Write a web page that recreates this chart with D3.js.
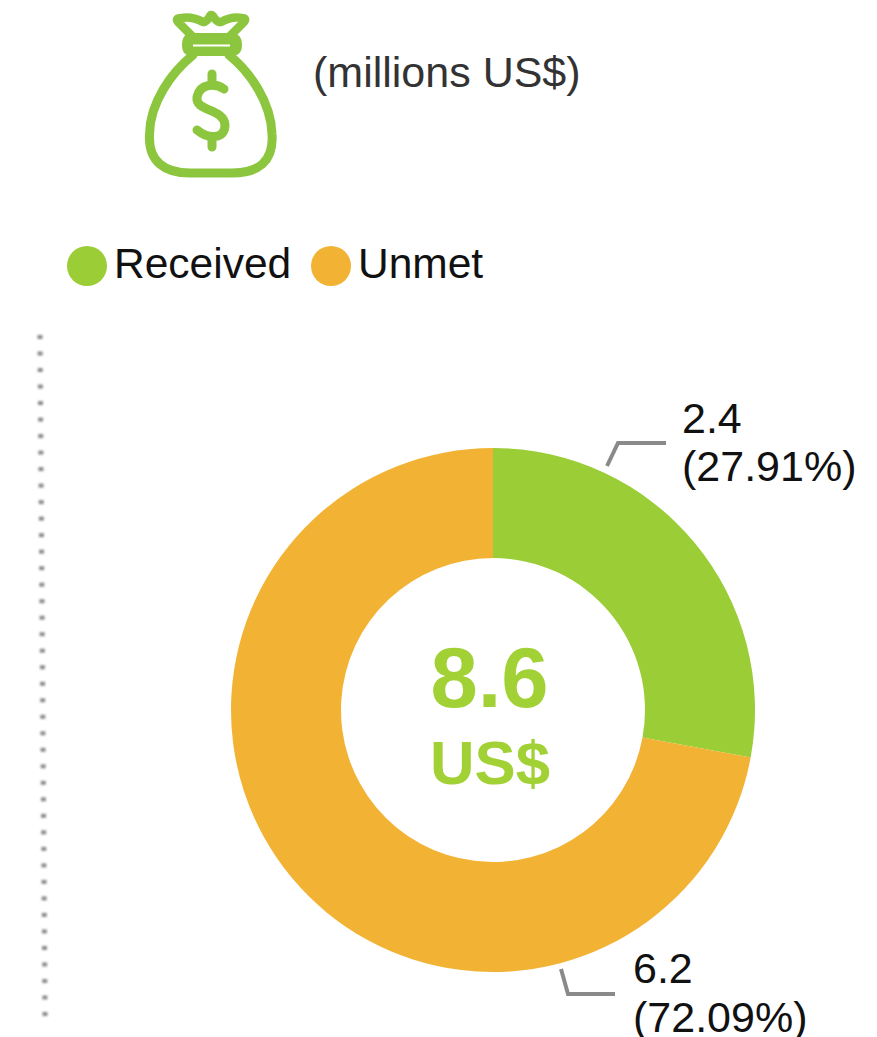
<!DOCTYPE html>
<html><head><meta charset="utf-8">
<script src="https://cdn.jsdelivr.net/npm/d3@7"></script>
<style>html,body{margin:0;padding:0;background:#fff}svg{display:block}text{font-family:"Liberation Sans",Arial,sans-serif}</style>
</head><body><svg id="c" width="877" height="1037"></svg>
<script>
const categories = ["Received", "Unmet"];
const values = [2.4, 6.2];
const percents = ["27.91%", "72.09%"];
const colors = ["#9BCD37", "#F2B335"];
const total = "8.6";
const unitLabel = "US$";
const subtitle = "(millions US$)";

const svg = d3.select("#c");
const cx = 493, cy = 710, R = 262, r = 152;

// icon
const icon = svg.append("g").attr("fill","none").attr("stroke","#8CC63F").attr("stroke-linecap","round").attr("stroke-linejoin","round").style("filter","blur(.4px)");
icon.append("path").attr("stroke-width",9).attr("d","M193,55 C172,72 150,102 149.500,134 C148,162 165,173 190,173 L232,173 C258,173 274,162 272,134 C271,102 250,72 229,55");
icon.append("path").attr("stroke-width",8).attr("fill","#8CC63F").attr("d","M192,37 L231,37 Q238,37 238,45 Q238,52 231,52 L192,52 Q186,52 186,45 Q186,37 192,37 Z");
icon.append("path").attr("stroke","#fff").attr("stroke-width",2).attr("stroke-linecap","butt").attr("d","M193,45.500 L230,45.500");
icon.append("path").attr("stroke-width",8.500).attr("d","M192,36 L178,22 Q175,18 181,18 Q192,16 203,22 Q206,23 210,16 Q211,14 213,16 Q217,23 221,22 Q232,16 242,18 Q247,18 244,22 L230,36");
icon.append("path").attr("stroke-width",9).attr("d","M224,89 C216,83 200,83 197,97 C195,112 224,108 225,125 C225,140 208,139 197,130 M212,74 L212,84 M212,139 L212,147");

// subtitle
svg.append("text").attr("x",313).attr("y",87).attr("font-size",43).attr("fill","#333").text(subtitle);

// legend
const legendX = [87, 331], legendTextX = [114, 358];
categories.forEach((c,i)=>{
  svg.append("circle").attr("cx",legendX[i]).attr("cy",266).attr("r",20).attr("fill",colors[i]);
  svg.append("text").attr("x",legendTextX[i]).attr("y",278).attr("font-size",42.500).attr("fill","#111").text(c);
});

// dotted line
const dotStart = [40, 337], dotEnd = [45, 1014], n = 42;
const sx = d3.scaleLinear().domain([0,n-1]).range([dotStart[0],dotEnd[0]]);
const sy = d3.scaleLinear().domain([0,n-1]).range([dotStart[1],dotEnd[1]]);
svg.append("g").selectAll("rect").data(d3.range(n)).join("rect")
  .attr("x",d=>sx(d)-2.5).attr("y",d=>sy(d)-2).attr("width",5).attr("height",4)
  .attr("fill","#777").attr("opacity",.85).style("filter","blur(1px)");

// donut
const pie = d3.pie().sort(null)(values);
const arc = d3.arc().innerRadius(r).outerRadius(R);
const g = svg.append("g").attr("transform",`translate(${cx},${cy})`);
g.selectAll("path").data(pie).join("path").attr("d",arc).attr("fill",(d,i)=>colors[i]);

svg.append("text").attr("x",489.500).attr("y",707).attr("text-anchor","middle").attr("font-size",85).attr("font-weight","bold").attr("fill","#A2D135").text(total);
svg.append("text").attr("x",430).attr("y",784).attr("font-size",61.500).attr("font-weight","bold").attr("fill","#A2D135").attr("textLength",120).attr("lengthAdjust","spacingAndGlyphs").text(unitLabel);

// leader lines and labels
const leaders = [[[607,466],[618,443],[666,443]],[[561,969],[568,994],[615,994]]];
const labelPos = [[682,433,481],[633,983,1032]];
const line = d3.line();
leaders.forEach(l=>svg.append("path").attr("d",line(l)).attr("fill","none").attr("stroke","#8a8a8a").attr("stroke-width",4));
values.forEach((v,i)=>{
  svg.append("text").attr("x",labelPos[i][0]).attr("y",labelPos[i][1]).attr("font-size",43).attr("fill","#111").text(v.toFixed(1));
  svg.append("text").attr("x",labelPos[i][0]).attr("y",labelPos[i][2]).attr("font-size",43).attr("fill","#111").text(`(${percents[i]})`);
});
</script></body></html>
